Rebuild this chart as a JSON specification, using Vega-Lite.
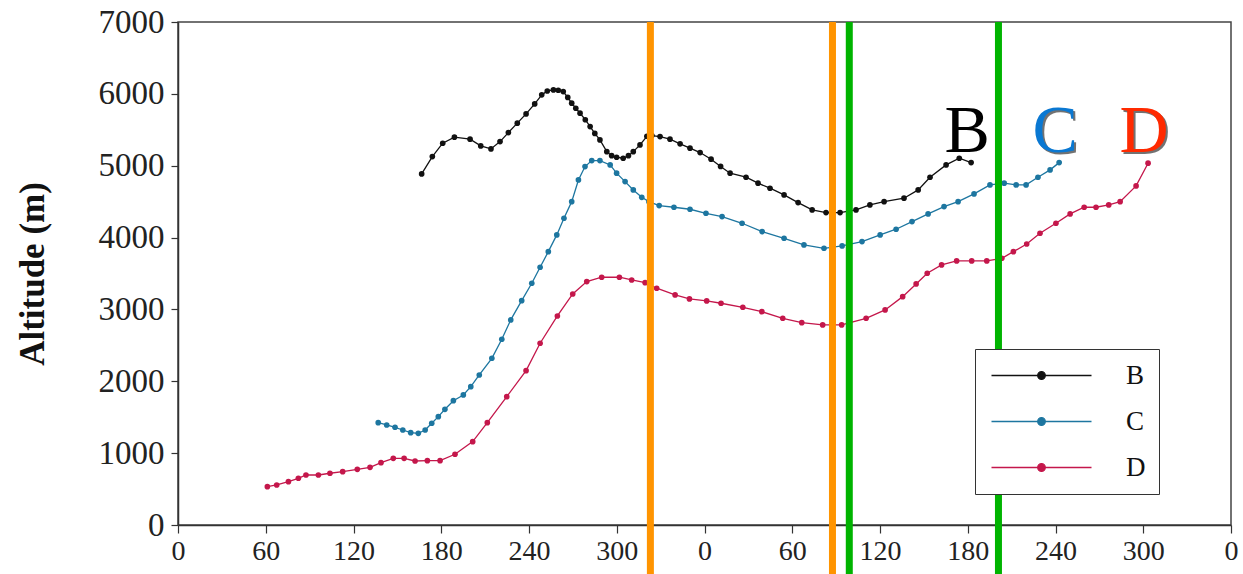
{
  "$schema": "https://vega.github.io/schema/vega-lite/v6.json",
  "width": 1053,
  "height": 503,
  "autosize": "none",
  "padding": {"left": 178, "top": 22, "right": 12, "bottom": 49},
  "background": "white",
  "config": {
    "view": {"stroke": "#444", "strokeWidth": 1.5},
    "font": "Liberation Serif",
    "axis": {
      "labelFont": "Liberation Serif",
      "titleFont": "Liberation Serif",
      "labelColor": "#222",
      "domainColor": "#333",
      "domainWidth": 1.5,
      "tickColor": "#333",
      "tickWidth": 1.2,
      "grid": false
    }
  },
  "datasets": {
    "profiles": [
      {"series": "B", "lon": 166.6, "alt": 4886},
      {"series": "B", "lon": 173.9, "alt": 5127},
      {"series": "B", "lon": 181, "alt": 5313},
      {"series": "B", "lon": 189, "alt": 5397},
      {"series": "B", "lon": 199.7, "alt": 5369},
      {"series": "B", "lon": 207, "alt": 5276},
      {"series": "B", "lon": 214, "alt": 5234},
      {"series": "B", "lon": 220.2, "alt": 5336},
      {"series": "B", "lon": 225.9, "alt": 5461},
      {"series": "B", "lon": 232, "alt": 5592},
      {"series": "B", "lon": 238, "alt": 5721},
      {"series": "B", "lon": 243.9, "alt": 5860},
      {"series": "B", "lon": 248.7, "alt": 5986},
      {"series": "B", "lon": 252.5, "alt": 6040},
      {"series": "B", "lon": 256.7, "alt": 6055},
      {"series": "B", "lon": 260, "alt": 6050},
      {"series": "B", "lon": 263.4, "alt": 6032},
      {"series": "B", "lon": 266.5, "alt": 5950},
      {"series": "B", "lon": 269.2, "alt": 5870},
      {"series": "B", "lon": 272, "alt": 5800},
      {"series": "B", "lon": 274.9, "alt": 5731},
      {"series": "B", "lon": 278.5, "alt": 5640},
      {"series": "B", "lon": 281.8, "alt": 5545},
      {"series": "B", "lon": 285, "alt": 5450},
      {"series": "B", "lon": 288.5, "alt": 5359},
      {"series": "B", "lon": 293.2, "alt": 5196},
      {"series": "B", "lon": 296.5, "alt": 5140},
      {"series": "B", "lon": 299.9, "alt": 5118},
      {"series": "B", "lon": 304.4, "alt": 5104},
      {"series": "B", "lon": 308, "alt": 5140},
      {"series": "B", "lon": 311.3, "alt": 5196},
      {"series": "B", "lon": 315.9, "alt": 5290},
      {"series": "B", "lon": 320.6, "alt": 5410},
      {"series": "B", "lon": 324, "alt": 5420},
      {"series": "B", "lon": 329.6, "alt": 5405},
      {"series": "B", "lon": 336.4, "alt": 5369},
      {"series": "B", "lon": 343.3, "alt": 5304},
      {"series": "B", "lon": 350.1, "alt": 5244},
      {"series": "B", "lon": 357, "alt": 5183},
      {"series": "B", "lon": 364.5, "alt": 5091},
      {"series": "B", "lon": 371, "alt": 4990},
      {"series": "B", "lon": 377.5, "alt": 4896},
      {"series": "B", "lon": 388.4, "alt": 4840},
      {"series": "B", "lon": 396.6, "alt": 4757},
      {"series": "B", "lon": 404.8, "alt": 4687},
      {"series": "B", "lon": 414.4, "alt": 4594},
      {"series": "B", "lon": 424, "alt": 4487},
      {"series": "B", "lon": 433.6, "alt": 4385},
      {"series": "B", "lon": 443.1, "alt": 4348},
      {"series": "B", "lon": 452.7, "alt": 4348},
      {"series": "B", "lon": 463.6, "alt": 4385},
      {"series": "B", "lon": 473.1, "alt": 4454},
      {"series": "B", "lon": 482.8, "alt": 4500},
      {"series": "B", "lon": 496.4, "alt": 4548},
      {"series": "B", "lon": 506.1, "alt": 4663},
      {"series": "B", "lon": 514.2, "alt": 4840},
      {"series": "B", "lon": 525.2, "alt": 5011},
      {"series": "B", "lon": 534.2, "alt": 5104},
      {"series": "B", "lon": 542.3, "alt": 5043},
      {"series": "C", "lon": 136.9, "alt": 1424},
      {"series": "C", "lon": 142.7, "alt": 1392},
      {"series": "C", "lon": 148.4, "alt": 1360},
      {"series": "C", "lon": 153.7, "alt": 1322},
      {"series": "C", "lon": 159.1, "alt": 1285},
      {"series": "C", "lon": 164.3, "alt": 1276},
      {"series": "C", "lon": 169, "alt": 1322},
      {"series": "C", "lon": 173.5, "alt": 1416},
      {"series": "C", "lon": 178, "alt": 1508},
      {"series": "C", "lon": 182.5, "alt": 1610},
      {"series": "C", "lon": 188.3, "alt": 1730},
      {"series": "C", "lon": 195.1, "alt": 1810},
      {"series": "C", "lon": 200.2, "alt": 1925},
      {"series": "C", "lon": 206, "alt": 2088},
      {"series": "C", "lon": 214.6, "alt": 2320},
      {"series": "C", "lon": 221.4, "alt": 2585},
      {"series": "C", "lon": 227.5, "alt": 2854},
      {"series": "C", "lon": 235, "alt": 3122},
      {"series": "C", "lon": 241.9, "alt": 3364},
      {"series": "C", "lon": 247.6, "alt": 3587},
      {"series": "C", "lon": 253.2, "alt": 3804},
      {"series": "C", "lon": 259, "alt": 4037},
      {"series": "C", "lon": 263.9, "alt": 4269},
      {"series": "C", "lon": 269.2, "alt": 4500},
      {"series": "C", "lon": 273.8, "alt": 4802},
      {"series": "C", "lon": 278.3, "alt": 4988},
      {"series": "C", "lon": 282.9, "alt": 5071},
      {"series": "C", "lon": 288.5, "alt": 5071},
      {"series": "C", "lon": 295.5, "alt": 5011},
      {"series": "C", "lon": 299.9, "alt": 4896},
      {"series": "C", "lon": 305.7, "alt": 4779},
      {"series": "C", "lon": 311.3, "alt": 4663},
      {"series": "C", "lon": 317.1, "alt": 4560},
      {"series": "C", "lon": 322, "alt": 4500},
      {"series": "C", "lon": 329, "alt": 4445},
      {"series": "C", "lon": 339.1, "alt": 4422},
      {"series": "C", "lon": 350.1, "alt": 4394},
      {"series": "C", "lon": 361, "alt": 4338},
      {"series": "C", "lon": 372, "alt": 4292},
      {"series": "C", "lon": 385.7, "alt": 4199},
      {"series": "C", "lon": 399.4, "alt": 4083},
      {"series": "C", "lon": 414.4, "alt": 3990},
      {"series": "C", "lon": 428, "alt": 3898},
      {"series": "C", "lon": 441.7, "alt": 3851},
      {"series": "C", "lon": 454.1, "alt": 3884},
      {"series": "C", "lon": 467.7, "alt": 3944},
      {"series": "C", "lon": 480.1, "alt": 4037},
      {"series": "C", "lon": 491, "alt": 4116},
      {"series": "C", "lon": 501.9, "alt": 4222},
      {"series": "C", "lon": 512.9, "alt": 4329},
      {"series": "C", "lon": 523.8, "alt": 4431},
      {"series": "C", "lon": 533.4, "alt": 4500},
      {"series": "C", "lon": 544.3, "alt": 4608},
      {"series": "C", "lon": 555.2, "alt": 4733},
      {"series": "C", "lon": 564.9, "alt": 4757},
      {"series": "C", "lon": 573.1, "alt": 4733},
      {"series": "C", "lon": 579.9, "alt": 4733},
      {"series": "C", "lon": 588, "alt": 4840},
      {"series": "C", "lon": 596.3, "alt": 4942},
      {"series": "C", "lon": 602.5, "alt": 5043},
      {"series": "D", "lon": 61.1, "alt": 533},
      {"series": "D", "lon": 67.5, "alt": 557},
      {"series": "D", "lon": 75.5, "alt": 603},
      {"series": "D", "lon": 82.3, "alt": 650},
      {"series": "D", "lon": 87.5, "alt": 696},
      {"series": "D", "lon": 96, "alt": 696},
      {"series": "D", "lon": 103.9, "alt": 720},
      {"series": "D", "lon": 112.6, "alt": 742},
      {"series": "D", "lon": 122.6, "alt": 775},
      {"series": "D", "lon": 131.3, "alt": 803},
      {"series": "D", "lon": 138.8, "alt": 867},
      {"series": "D", "lon": 147.2, "alt": 928},
      {"series": "D", "lon": 154.6, "alt": 928},
      {"series": "D", "lon": 162.1, "alt": 891},
      {"series": "D", "lon": 170.5, "alt": 895},
      {"series": "D", "lon": 179.2, "alt": 895},
      {"series": "D", "lon": 189.4, "alt": 984},
      {"series": "D", "lon": 201.5, "alt": 1160},
      {"series": "D", "lon": 211.5, "alt": 1424},
      {"series": "D", "lon": 224.8, "alt": 1786},
      {"series": "D", "lon": 238, "alt": 2148},
      {"series": "D", "lon": 247.6, "alt": 2529},
      {"series": "D", "lon": 259.4, "alt": 2909},
      {"series": "D", "lon": 269.9, "alt": 3215},
      {"series": "D", "lon": 279.5, "alt": 3387},
      {"series": "D", "lon": 289.7, "alt": 3448},
      {"series": "D", "lon": 301.8, "alt": 3448},
      {"series": "D", "lon": 310.2, "alt": 3410},
      {"series": "D", "lon": 319.4, "alt": 3373},
      {"series": "D", "lon": 327.3, "alt": 3295},
      {"series": "D", "lon": 339.9, "alt": 3202},
      {"series": "D", "lon": 349.7, "alt": 3146},
      {"series": "D", "lon": 361.5, "alt": 3118},
      {"series": "D", "lon": 371.3, "alt": 3086},
      {"series": "D", "lon": 386.2, "alt": 3030},
      {"series": "D", "lon": 399.2, "alt": 2969},
      {"series": "D", "lon": 413.5, "alt": 2877},
      {"series": "D", "lon": 426.5, "alt": 2816},
      {"series": "D", "lon": 440.8, "alt": 2784},
      {"series": "D", "lon": 453.8, "alt": 2784},
      {"series": "D", "lon": 470.5, "alt": 2877},
      {"series": "D", "lon": 483.5, "alt": 2993},
      {"series": "D", "lon": 495.5, "alt": 3178},
      {"series": "D", "lon": 504.7, "alt": 3355},
      {"series": "D", "lon": 512.3, "alt": 3504},
      {"series": "D", "lon": 522.1, "alt": 3619},
      {"series": "D", "lon": 532.4, "alt": 3675},
      {"series": "D", "lon": 542.7, "alt": 3675},
      {"series": "D", "lon": 553, "alt": 3675},
      {"series": "D", "lon": 563.3, "alt": 3712},
      {"series": "D", "lon": 571.2, "alt": 3804},
      {"series": "D", "lon": 580.3, "alt": 3911},
      {"series": "D", "lon": 589.4, "alt": 4060},
      {"series": "D", "lon": 600.3, "alt": 4199},
      {"series": "D", "lon": 610, "alt": 4329},
      {"series": "D", "lon": 619.6, "alt": 4422},
      {"series": "D", "lon": 627.7, "alt": 4422},
      {"series": "D", "lon": 636.4, "alt": 4454},
      {"series": "D", "lon": 644.2, "alt": 4500},
      {"series": "D", "lon": 655.1, "alt": 4719},
      {"series": "D", "lon": 663.3, "alt": 5035}
    ],
    "markers": [
      {"lon": 323, "pair": "orange"},
      {"lon": 447.5, "pair": "orange"},
      {"lon": 459, "pair": "green"},
      {"lon": 561, "pair": "green"}
    ]
  },
  "layer": [
    {
      "data": {"name": "profiles"},
      "mark": {"type": "line", "strokeWidth": 1.3, "clip": false},
      "encoding": {
        "x": {
          "field": "lon", "type": "quantitative",
          "scale": {"domain": [0, 720], "nice": false, "zero": false},
          "axis": {
            "title": null,
            "values": [0, 60, 120, 180, 240, 300, 360, 420, 480, 540, 600, 660, 720],
            "labelExpr": "datum.value % 360",
            "labelFontSize": 28,
            "tickSize": 8,
            "labelPadding": 4,
            "labelFlush": false,
            "labelOverlap": false
          }
        },
        "y": {
          "field": "alt", "type": "quantitative",
          "scale": {"domain": [0, 7000], "nice": false},
          "axis": {
            "title": "Altitude (m)",
            "values": [0, 1000, 2000, 3000, 4000, 5000, 6000, 7000],
            "format": "d",
            "labelFontSize": 33,
            "tickSize": 7,
            "labelPadding": 7,
            "titleFontSize": 35,
            "titleFontWeight": "bold",
            "titleColor": "#111",
            "titlePadding": 48
          }
        },
        "color": {
          "field": "series", "type": "nominal",
          "scale": {"domain": ["B", "C", "D"], "range": ["#111111", "#1d76a0", "#c4174b"]},
          "legend": {
            "title": null,
            "orient": "none",
            "legendX": 797,
            "legendY": 327,
            "strokeColor": "#333",
            "fillColor": "white",
            "padding": 13,
            "rowPadding": 18,
            "labelFont": "Liberation Serif",
            "labelFontSize": 27,
            "labelColor": "#111",
            "labelOffset": 111,
            "symbolType": "M-1,0H9M3.62,0A0.38,0.38 0 1,0 4.38,0A0.38,0.38 0 1,0 3.62,0",
            "symbolSize": 400,
            "symbolStrokeWidth": 1.3,
            "encode": {"symbols": {"update": {"fill": {"scale": "color", "field": "value"}}}}
          }
        }
      }
    },
    {
      "data": {"name": "profiles"},
      "mark": {"type": "point", "filled": true, "size": 32, "opacity": 1},
      "encoding": {
        "x": {"field": "lon", "type": "quantitative"},
        "y": {"field": "alt", "type": "quantitative"},
        "color": {"field": "series", "type": "nominal"}
      }
    },
    {
      "data": {"name": "profiles"},
      "transform": [
        {"joinaggregate": [{"op": "max", "field": "lon", "as": "lastLon"}], "groupby": ["series"]},
        {"filter": "datum.lon == datum.lastLon && datum.series != 'B'"}
      ],
      "mark": {"type": "text", "fontSize": 68, "font": "Liberation Serif", "baseline": "alphabetic", "align": "center", "dx": -2, "dy": -9, "fill": "#000", "opacity": 0.55},
      "encoding": {
        "x": {"field": "lon", "type": "quantitative"},
        "y": {"field": "alt", "type": "quantitative"},
        "text": {"field": "series"}
      }
    },
    {
      "data": {"name": "profiles"},
      "transform": [
        {"joinaggregate": [{"op": "max", "field": "lon", "as": "lastLon"}], "groupby": ["series"]},
        {"filter": "datum.lon == datum.lastLon"}
      ],
      "mark": {"type": "text", "fontSize": 68, "font": "Liberation Serif", "baseline": "alphabetic", "align": "center", "dx": -4, "dy": -11},
      "encoding": {
        "x": {"field": "lon", "type": "quantitative"},
        "y": {"field": "alt", "type": "quantitative"},
        "text": {"field": "series"},
        "fill": {
          "field": "series", "type": "nominal",
          "scale": {"domain": ["B", "C", "D"], "range": ["#000000", "#0a78d2", "#ff2a00"]},
          "legend": null
        }
      }
    },
    {
      "data": {"name": "markers"},
      "mark": {"type": "rule", "strokeWidth": 7, "clip": false},
      "encoding": {
        "x": {"field": "lon", "type": "quantitative"},
        "y": {"datum": 7000},
        "y2": {"datum": -800},
        "stroke": {
          "field": "pair", "type": "nominal",
          "scale": {"domain": ["orange", "green"], "range": ["#ff9400", "#00b400"]},
          "legend": null
        }
      }
    }
  ]
}
